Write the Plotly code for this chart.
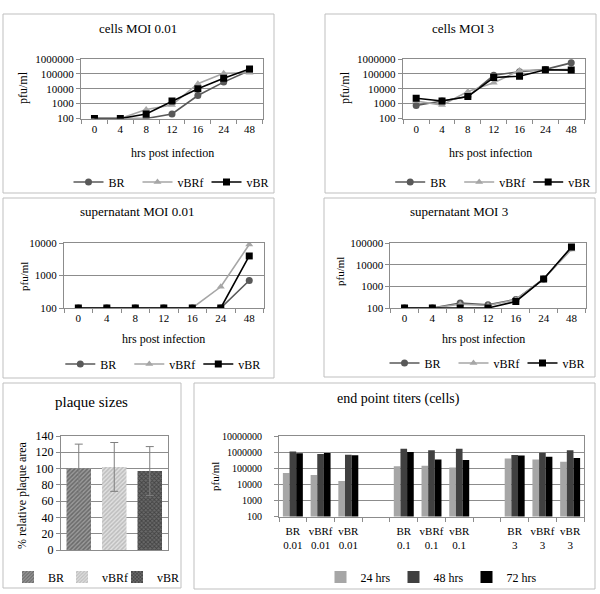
import plotly.graph_objects as go

W, H = 600, 594
FONT = "Liberation Serif, Times New Roman, serif"

# ---------------- data ----------------
hours = ["0", "4", "8", "12", "16", "24", "48"]
series_names = ["BR", "vBRf", "vBR"]

cells001_BR = [100, 100, 100, 200, 3500, 28000, 170000]
cells001_vBRf = [100, 100, 400, 800, 22000, 110000, 120000]
cells001_vBR = [100, 100, 200, 1500, 10000, 50000, 210000]

cells3_BR = [750, 1500, 3000, 80000, 140000, 200000, 550000]
cells3_vBRf = [1500, 800, 6500, 25000, 170000, 180000, 200000]
cells3_vBR = [2300, 1500, 3000, 57000, 70000, 190000, 180000]

sup001_BR = [100, 100, 100, 100, 100, 100, 700]
sup001_vBRf = [100, 100, 100, 100, 100, 450, 9000]
sup001_vBR = [100, 100, 100, 100, 100, 100, 4000]

sup3_BR = [100, 100, 170, 140, 250, 2200, 60000]
sup3_vBRf = [100, 100, 150, 130, 240, 2200, 50000]
sup3_vBR = [100, 100, 100, 100, 200, 2200, 65000]

plaque_names = ["BR", "vBRf", "vBR"]
plaque_mean = [100, 102, 97]
plaque_err = [30, 30, 30]

moi_groups = ["0.01", "0.1", "3"]
ep_viruses = ["BR", "vBRf", "vBR"]
ep_24 = [50000, 38000, 16000, 130000, 140000, 110000, 400000, 350000, 250000]
ep_48 = [1100000, 750000, 680000, 1600000, 1300000, 1600000, 650000, 900000, 1300000]
ep_72 = [850000, 880000, 640000, 1000000, 350000, 320000, 620000, 520000, 430000]
ep_times = ["24 hrs", "48 hrs", "72 hrs"]

# ---------------- helpers ----------------
def px(x):
    return x / W

def py(y):
    return 1 - y / H

line_colors = {"BR": "#595959", "vBRf": "#a6a6a6", "vBR": "#000000"}
line_symbols = {"BR": "circle", "vBRf": "triangle-up", "vBR": "square"}

fig = go.Figure()

panels = [
    ({"BR": cells001_BR, "vBRf": cells001_vBRf, "vBR": cells001_vBR}, "", "legend", (81, 263), (59, 118.5), (2, 6)),
    ({"BR": cells3_BR, "vBRf": cells3_vBRf, "vBR": cells3_vBR}, "2", "legend2", (402.7, 584.7), (59, 118.5), (2, 6)),
    ({"BR": sup001_BR, "vBRf": sup001_vBRf, "vBR": sup001_vBR}, "3", "legend3", (64, 263.6), (243, 308), (2, 4)),
    ({"BR": sup3_BR, "vBRf": sup3_vBRf, "vBR": sup3_vBR}, "4", "legend4", (390.4, 585.6), (243, 308), (2, 5)),
]

GRID = "#8c8c8c"
axis_common = dict(showline=True, linecolor=GRID, linewidth=1, mirror=True,
                   tickfont=dict(family=FONT, size=11, color="black"))

for data, ax, leg, (x0, x1), (y0, y1), yr in panels:
    for name in series_names:
        fig.add_trace(go.Scatter(
            x=hours, y=data[name], name=name, mode="lines+markers",
            line=dict(color=line_colors[name], width=1.6),
            marker=dict(symbol=line_symbols[name], color=line_colors[name], size=7),
            xaxis="x" + ax, yaxis="y" + ax, legend=leg,
        ))
    fig.layout["xaxis" + ax] = dict(
        domain=[px(x0), px(x1)], anchor="y" + ax, type="category",
        tickson="boundaries", ticks="outside", ticklen=4, tickcolor=GRID,
        showgrid=False, categoryorder="array", categoryarray=hours, **axis_common)
    fig.layout["yaxis" + ax] = dict(
        domain=[py(y1), py(y0)], anchor="x" + ax, type="log", range=list(yr), dtick=1,
        tickformat=".0f", ticks="outside", ticklen=4, tickcolor=GRID,
        showgrid=True, gridcolor=GRID, gridwidth=1, **axis_common)

# plaque sizes (panel 5)
plaque_fill = {
    "BR": dict(shape="/", fgcolor="#3a3a3a", bgcolor="#9a9a9a", size=3, solidity=0.5),
    "vBRf": dict(shape="/", fgcolor="#9a9a9a", bgcolor="#e0e0e0", size=3, solidity=0.5),
    "vBR": dict(shape="x", fgcolor="#1a1a1a", bgcolor="#6a6a6a", size=3, solidity=0.5),
}
plaque_legends = {"BR": "legend5", "vBRf": "legend7", "vBR": "legend8"}
for name, m, e in zip(plaque_names, plaque_mean, plaque_err):
    fig.add_trace(go.Bar(
        x=[name], y=[m], name=name, offsetgroup="plaque", width=0.69,
        marker=dict(color=plaque_fill[name]["bgcolor"], pattern=plaque_fill[name],
                    line=dict(width=0)),
        error_y=dict(type="data", array=[e], color="#7f7f7f", thickness=1, width=4),
        xaxis="x5", yaxis="y5", legend=plaque_legends[name],
    ))
fig.layout["xaxis5"] = dict(domain=[px(61), px(167.5)], anchor="y5", type="category",
                            categoryorder="array", categoryarray=plaque_names,
                            showticklabels=False, ticks="", showgrid=False, **axis_common)
fig.layout["yaxis5"] = dict(domain=[py(550), py(436)], anchor="x5", range=[0, 140], dtick=20,
                            ticks="outside", ticklen=4, tickcolor=GRID,
                            showgrid=True, gridcolor=GRID, **axis_common)
fig.layout["yaxis5"]["tickfont"] = dict(family=FONT, size=12, color="black")

# end point titers (panel 6)
ep_slots = []
ep_labels = []
for g, moi in enumerate(moi_groups):
    for v, vir in enumerate(ep_viruses):
        ep_slots.append(g * (len(ep_viruses) + 1) + v)
        ep_labels.append(f"{vir}<br>{moi}")
ep_colors = ["#a6a6a6", "#404040", "#000000"]
for tname, vals, col in zip(ep_times, [ep_24, ep_48, ep_72], ep_colors):
    fig.add_trace(go.Bar(
        x=ep_slots, y=vals, name=tname, marker=dict(color=col, line=dict(width=0)),
        xaxis="x6", yaxis="y6", legend="legend6",
    ))
n_slots = len(moi_groups) * (len(ep_viruses) + 1) - 1
fig.layout["xaxis6"] = dict(domain=[px(279), px(584)], anchor="y6",
                            range=[-0.5, n_slots - 0.5], tickvals=ep_slots, ticktext=ep_labels,
                            ticks="", showgrid=False, ticklabelstandoff=4,
                            minor=dict(tick0=0.5, dtick=1, ticks="outside", ticklen=4,
                                       tickcolor=GRID, showgrid=False),
                            **axis_common)
fig.layout["xaxis6"]["tickfont"] = dict(family=FONT, size=11, color="black")
fig.layout["yaxis6"] = dict(domain=[py(516.5), py(436)], anchor="x6", type="log",
                            range=[2, 7], dtick=1, tickformat=".0f",
                            ticks="outside", ticklen=4, tickcolor=GRID, ticklabelstandoff=10,
                            showgrid=True, gridcolor=GRID, **axis_common)
fig.layout["yaxis6"]["tickfont"] = dict(family=FONT, size=10, color="black")

# ---------------- legends ----------------
def legend_at(xc, yc, size=12, ew=None, xanchor="center"):
    d = dict(orientation="h", x=px(xc), y=py(yc), xanchor=xanchor, yanchor="middle",
             bgcolor="rgba(0,0,0,0)", font=dict(family=FONT, size=size, color="black"),
             itemwidth=30, tracegroupgap=0)
    if ew is not None:
        d["entrywidth"] = ew
        d["entrywidthmode"] = "pixels"
    return d

fig.update_layout(
    legend=legend_at(172, 182, ew=24),
    legend2=legend_at(493.7, 182, ew=24),
    legend3=legend_at(163.8, 364, ew=24),
    legend4=legend_at(488, 363, ew=24),
    legend5=legend_at(8, 577, size=12, xanchor="left"),
    legend7=legend_at(62, 577, size=12, xanchor="left"),
    legend8=legend_at(117, 577, size=12, xanchor="left"),
    legend6=legend_at(430, 577, ew=28),
)

# ---------------- annotations (titles) ----------------
annotations = [
    ("cells MOI 0.01", 138, 28, 13, 0),
    ("cells MOI 3", 463, 28, 13, 0),
    ("supernatant MOI 0.01", 136.5, 212, 13, 0),
    ("supernatant MOI 3", 458.5, 212, 13, 0),
    ("plaque sizes", 91, 402, 15, 0),
    ("end point titers (cells)", 398, 399, 14, 0),
    ("hrs post infection", 172, 153, 12, 0),
    ("hrs post infection", 490, 153, 12, 0),
    ("hrs post infection", 163, 339, 12, 0),
    ("hrs post infection", 483, 339, 12, 0),
    ("pfu/ml", 23, 88, 12, -90),
    ("pfu/ml", 345, 88, 12, -90),
    ("pfu/ml", 24, 277, 11, -90),
    ("pfu/ml", 340, 272, 11, -90),
    ("% relative plaque area", 22, 495, 12, -90),
    ("pfu/ml", 215, 477, 11, -90),
]
for text, x, y, size, ang in annotations:
    fig.add_annotation(text=text, x=px(x), y=py(y), xref="paper", yref="paper",
                       xanchor="center", yanchor="middle", showarrow=False, textangle=ang,
                       font=dict(family=FONT, size=size, color="black"))

# ---------------- panel borders ----------------
boxes = [(3, 14, 274, 193), (325, 14, 596, 193), (3, 198, 274, 378),
         (324, 198, 595, 377), (3, 383, 181, 588), (194, 383, 595, 589)]
for x0, y0, x1, y1 in boxes:
    fig.add_shape(type="rect", xref="paper", yref="paper",
                  x0=px(x0), x1=px(x1), y0=py(y1), y1=py(y0),
                  line=dict(color="#bfbfbf", width=1), fillcolor="rgba(0,0,0,0)")

fig.update_layout(
    width=W, height=H, margin=dict(l=0, r=0, t=0, b=0, autoexpand=False),
    paper_bgcolor="white", plot_bgcolor="white",
    barmode="group", bargap=0.28, bargroupgap=0,
    font=dict(family=FONT, size=12, color="black"),
)

fig.write_html("out.html", config={"displayModeBar": False},
               post_script="document.body.style.margin='0';document.body.style.overflow='hidden';")
